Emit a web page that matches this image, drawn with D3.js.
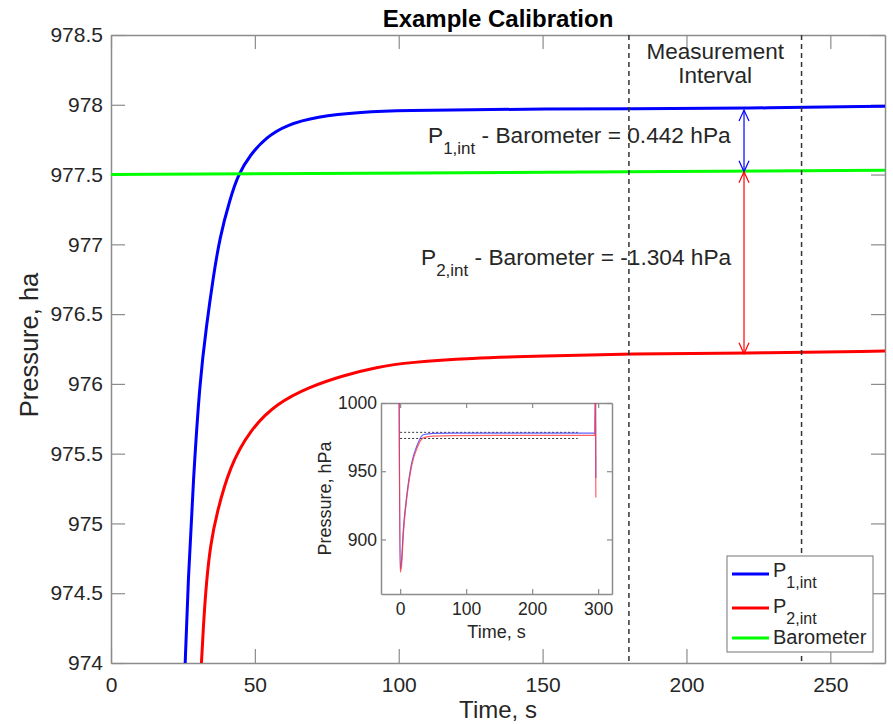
<!DOCTYPE html>
<html lang='en'>
  <head>
    <meta charset="utf-8">
    <title>Example Calibration</title>
    <style>
      body { margin: 0; background: #ffffff; }
      text {
            font-family: "Liberation Sans", Arial, sans-serif;
            fill: #262626;
      }
    </style>
    <!-- Load d3.js -->
    <script src="https://d3js.org/d3.v7.min.js"></script>
  </head>

  <body>
    <div id="chart"></div>

  <script>

    // main series (time in s, pressure in hPa)
    var p1Time = [25.7, 26.8, 28.6, 30.9, 33.2, 35.5, 37.8, 41.3, 44.2, 48.3, 54.1, 61, 71.4, 86.5, 103.8, 125, 150, 180, 220, 269];
    var p1Val  = [973.95, 974.59, 975.31, 976.03, 976.42, 976.76, 977.05, 977.32, 977.5, 977.64, 977.77, 977.855, 977.915, 977.948, 977.96, 977.965, 977.97, 977.97, 977.975, 977.99];

    var p2Time = [31.3, 32.2, 33.2, 34.6, 36.7, 41.3, 48.3, 57.5, 69.1, 80.7, 92.3, 103.8, 125, 150, 180, 220, 269];
    var p2Val  = [973.95, 974.3, 974.59, 974.85, 975.07, 975.41, 975.67, 975.86, 975.98, 976.06, 976.12, 976.155, 976.185, 976.2, 976.215, 976.22, 976.235];

    var baroTime = [0, 90, 180, 269];
    var baroVal  = [977.5, 977.51, 977.52, 977.53];

    // measurement interval and the differences found in it
    var intervalTime = [180, 240];
    var arrowTime = 220;
    var baroInt = 977.52;
    var diffP1 = 0.442;
    var diffP2 = -1.304;

    // inset: whole run
    var insetTime = [-1.5, 0, 2, 5, 10, 17.7, 25.3, 35, 50, 80, 150, 295, 296, 296.5];
    var insetP1   = [1010, 878, 884, 908, 932, 956.5, 968.5, 976.7, 977.7, 977.95, 977.97, 977.99, 1010, 945];
    var insetP2   = [1010, 876, 880, 905, 930, 954.5, 966.5, 974.4, 975.7, 976.05, 976.2, 976.24, 1010, 930.7];
    var zoomBoxTime = [0, 269];
    var zoomBoxVal  = [978.5, 974];

    // ticks
    var xTicks = [0, 50, 100, 150, 200, 250];
    var yTicks = [974, 974.5, 975, 975.5, 976, 976.5, 977, 977.5, 978, 978.5];
    var insetXTicks = [0, 100, 200, 300];
    var insetYTicks = [900, 950, 1000];

    var legendNames = [["P", "1,int"], ["P", "2,int"], ["Barometer", ""]];
    var legendColors = ["#0000ff", "#ff0000", "#00ff00"];

    // set the dimensions and margins of the graph
    var margin = {top: 35, right: 8, bottom: 61, left: 111},
        width = 893 - margin.left - margin.right,
        height = 724 - margin.top - margin.bottom;

    var root = d3.select("#chart")
      .append("svg")
        .attr("width", 893)
        .attr("height", 724);

    var svg = root.append("g")
        .attr("transform", "translate(" + margin.left + "," + margin.top + ")");

    var x = d3.scaleLinear().domain([0, 269]).range([0, width]);
    var y = d3.scaleLinear().domain([974, 978.5]).range([height, 0]);

    var axisColor = "#8c8c8c";

    function styleAxis(g, size) {
      g.attr("color", axisColor).attr("font-family", null).attr("font-size", null);
      g.selectAll(".domain").attr("stroke-width", 1.5);
      g.selectAll(".tick line").attr("stroke-width", 1.2);
      g.selectAll("text").style("font-size", size + "px");
    }

    // axes on all four sides, ticks inside
    svg.append("g")
      .attr("transform", "translate(0," + height + ")")
      .call(d3.axisBottom(x).tickValues(xTicks).tickSizeInner(-14).tickSizeOuter(0).tickPadding(14))
      .call(styleAxis, 21);
    svg.append("g")
      .call(d3.axisTop(x).tickValues(xTicks).tickSizeInner(-14).tickSizeOuter(0).tickFormat(""))
      .call(styleAxis, 21);
    svg.append("g")
      .call(d3.axisLeft(y).tickValues(yTicks).tickSizeInner(-14).tickSizeOuter(0).tickPadding(8).tickFormat(d3.format("~g")))
      .call(styleAxis, 21);
    svg.append("g")
      .attr("transform", "translate(" + width + ",0)")
      .call(d3.axisRight(y).tickValues(yTicks).tickSizeInner(-14).tickSizeOuter(0).tickFormat(""))
      .call(styleAxis, 21);

    // clip the curves to the plot area
    root.append("defs").append("clipPath").attr("id", "plotClip")
      .append("rect").attr("width", width).attr("height", height);

    var line = d3.line()
      .x(function(d) { return x(d[0]) })
      .y(function(d) { return y(d[1]) })
      .curve(d3.curveBasis);

    var plot = svg.append("g").attr("clip-path", "url(#plotClip)");

    var series = [
      {pts: d3.zip(p1Time, p1Val), color: legendColors[0]},
      {pts: d3.zip(p2Time, p2Val), color: legendColors[1]},
      {pts: d3.zip(baroTime, baroVal), color: legendColors[2]}
    ];
    plot.selectAll("mySeries")
      .data(series)
      .enter()
      .append("path")
        .attr("d", function(d) { return line(d.pts) })
        .attr("stroke", function(d) { return d.color })
        .attr("stroke-width", 3)
        .attr("fill", "none");

    // measurement interval
    plot.selectAll("myInterval")
      .data(intervalTime)
      .enter()
      .append("line")
        .attr("x1", function(d) { return x(d) })
        .attr("x2", function(d) { return x(d) })
        .attr("y1", 0)
        .attr("y2", height)
        .attr("stroke", "#333333")
        .attr("stroke-width", 1.5)
        .attr("stroke-dasharray", "5,4");

    var midInterval = x((intervalTime[0] + intervalTime[1]) / 2);
    svg.append("text").attr("x", midInterval).attr("y", 24).attr("text-anchor", "middle")
      .style("font-size", "22.5px").text("Measurement");
    svg.append("text").attr("x", midInterval).attr("y", 48).attr("text-anchor", "middle")
      .style("font-size", "22.5px").text("Interval");

    // double headed arrows between the sensors and the barometer
    function arrow(v0, v1, color) {
      var ax = x(arrowTime), ya = y(v0), yb = y(v1);
      var top = Math.min(ya, yb), bot = Math.max(ya, yb);
      var g = svg.append("g").attr("stroke", color).attr("stroke-width", 1.2).attr("fill", "none");
      g.append("line").attr("x1", ax).attr("x2", ax).attr("y1", top).attr("y2", bot);
      g.append("path").attr("d", "M" + (ax - 5) + "," + (top + 11) + "L" + ax + "," + top + "L" + (ax + 5) + "," + (top + 11));
      g.append("path").attr("d", "M" + (ax - 5) + "," + (bot - 11) + "L" + ax + "," + bot + "L" + (ax + 5) + "," + (bot - 11));
    }
    arrow(baroInt, baroInt + diffP1, legendColors[0]);
    arrow(baroInt, baroInt + diffP2, legendColors[1]);

    function subLabel(px, py, sub, rest, size, subSize, drop) {
      var t = root.append("text").attr("x", px).attr("y", py).style("font-size", size + "px");
      t.append("tspan").text("P");
      t.append("tspan").attr("dy", drop).style("font-size", subSize + "px").text(sub);
      t.append("tspan").attr("dy", -drop).text(rest);
      return t;
    }
    subLabel(428, 143, "1,int", " - Barometer = " + diffP1.toFixed(3) + " hPa", 22.7, 17, 11);
    subLabel(421, 265, "2,int", " - Barometer = " + diffP2.toFixed(3) + " hPa", 22.7, 17, 11);

    // titles
    root.append("text")
      .attr("x", margin.left + width / 2).attr("y", 27).attr("text-anchor", "middle")
      .style("font-size", "24px").style("font-weight", "bold").style("fill", "#000000")
      .text("Example Calibration");
    root.append("text")
      .attr("x", margin.left + width / 2).attr("y", 718).attr("text-anchor", "middle")
      .style("font-size", "24px").text("Time, s");
    root.append("text")
      .attr("transform", "translate(38,345) rotate(-90)")
      .attr("text-anchor", "middle")
      .style("font-size", "25.5px").text("Pressure, ha");

    // inset with the whole run
    var inset = {left: 381, top: 403, width: 231, height: 191};
    var ix = d3.scaleLinear().domain([-29, 321]).range([0, inset.width]);
    var iy = d3.scaleLinear().domain([860, 1000]).range([inset.height, 0]);

    var ig = root.append("g").attr("transform", "translate(" + inset.left + "," + inset.top + ")");
    ig.append("rect").attr("width", inset.width).attr("height", inset.height).attr("fill", "#ffffff");

    ig.append("g").attr("transform", "translate(0," + inset.height + ")")
      .call(d3.axisBottom(ix).tickValues(insetXTicks).tickSizeInner(-5).tickSizeOuter(0).tickPadding(9).tickFormat(d3.format("d")))
      .call(styleAxis, 17.5);
    ig.append("g")
      .call(d3.axisTop(ix).tickValues(insetXTicks).tickSizeInner(-5).tickSizeOuter(0).tickFormat(""))
      .call(styleAxis, 17.5);
    ig.append("g")
      .call(d3.axisLeft(iy).tickValues(insetYTicks).tickSizeInner(-5).tickSizeOuter(0).tickPadding(4).tickFormat(d3.format("d")))
      .call(styleAxis, 17.5);
    ig.append("g").attr("transform", "translate(" + inset.width + ",0)")
      .call(d3.axisRight(iy).tickValues(insetYTicks).tickSizeInner(-5).tickSizeOuter(0).tickFormat(""))
      .call(styleAxis, 17.5);

    root.select("defs").append("clipPath").attr("id", "insetClip")
      .append("rect").attr("width", inset.width).attr("height", inset.height);

    var iline = d3.line()
      .x(function(d) { return ix(d[0]) })
      .y(function(d) { return iy(d[1]) })
      .curve(d3.curveMonotoneX);

    var ip = ig.append("g").attr("clip-path", "url(#insetClip)");

    // zoom window of the main plot
    ip.selectAll("myBox")
      .data(zoomBoxVal)
      .enter()
      .append("line")
        .attr("x1", ix(zoomBoxTime[0])).attr("x2", ix(zoomBoxTime[1]))
        .attr("y1", function(d) { return iy(d) })
        .attr("y2", function(d) { return iy(d) })
        .attr("stroke", "#333333")
        .attr("stroke-width", 1)
        .attr("stroke-dasharray", "2,2");

    ip.selectAll("myInset")
      .data([{pts: d3.zip(insetTime, insetP1), color: "#3a3aff"}, {pts: d3.zip(insetTime, insetP2), color: "#ff3a3a"}])
      .enter()
      .append("path")
        .attr("d", function(d) { return iline(d.pts) })
        .attr("stroke", function(d) { return d.color })
        .attr("stroke-width", 1.2)
        .attr("stroke-opacity", 0.8)
        .attr("fill", "none");

    ig.append("text")
      .attr("x", inset.width / 2).attr("y", 235).attr("text-anchor", "middle")
      .style("font-size", "18px").text("Time, s");
    ig.append("text")
      .attr("transform", "translate(-50," + (inset.height / 2) + ") rotate(-90)")
      .attr("text-anchor", "middle")
      .style("font-size", "18px").text("Pressure, hPa");

    // legend
    var lg = root.append("g").attr("transform", "translate(727,556)");
    lg.append("rect").attr("width", 146).attr("height", 96)
      .attr("fill", "#ffffff").attr("stroke", axisColor).attr("stroke-width", 1.2);
    var lineY = [18, 52, 82];
    var textY = [21, 57, 88];
    lg.selectAll("myKeys")
      .data(legendColors)
      .enter()
      .append("line")
        .attr("x1", 5).attr("x2", 42)
        .attr("y1", function(d, i) { return lineY[i] })
        .attr("y2", function(d, i) { return lineY[i] })
        .attr("stroke", function(d) { return d })
        .attr("stroke-width", 3);
    legendNames.forEach(function(n, i) {
      var t = lg.append("text").attr("x", 46).attr("y", textY[i]).style("font-size", "20px");
      t.append("tspan").text(n[0]);
      if (n[1]) t.append("tspan").attr("dy", 11).style("font-size", "16px").text(n[1]);
    });

  </script>

  </body>
</html>
